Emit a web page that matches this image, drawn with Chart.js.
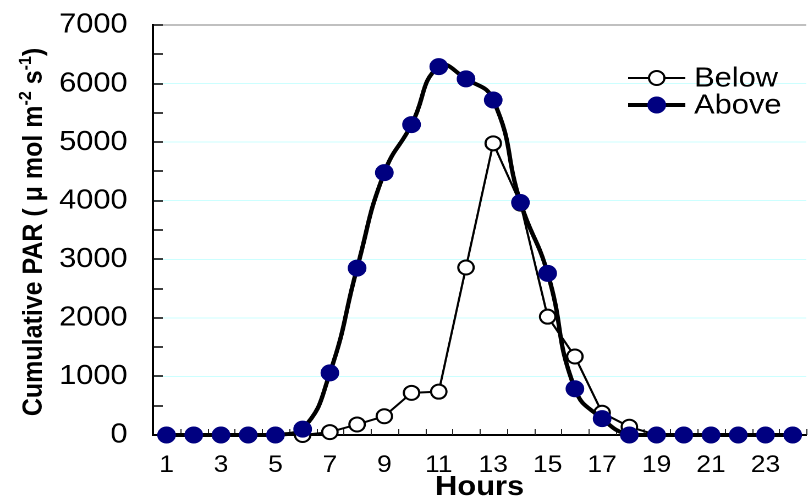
<!DOCTYPE html>
<html lang="en">
<head>
<meta charset="UTF-8">
<title>Cumulative PAR</title>
<script src="https://cdn.jsdelivr.net/npm/chart.js"></script>
<style>
  html, body { margin: 0; padding: 0; background: #fff; overflow: hidden; width: 809px; height: 500px; }
  /* the original figure is drawn a little wider than tall, stretch the whole chart */
  .wrap { width: 742px; height: 500px; transform: scaleX(1.1); transform-origin: 0 0; }
</style>
</head>
<body>
<div class="wrap"><canvas id="parChart" width="742" height="500"></canvas></div>
<script>
// data
const hours = [1, 2, 3, 4, 5, 6, 7, 8, 9, 10, 11, 12, 13, 14, 15, 16, 17, 18, 19, 20, 21, 22, 23, 24];
const below = [0, 0, 0, 0, 0, 0, 50, 180, 320, 720, 740, 2860, 4980, 3950, 2020, 1340, 380, 140, 0, 0, 0, 0, 0, 0];
const above = [0, 0, 0, 0, 0, 100, 1060, 2850, 4480, 5300, 6290, 6080, 5720, 3970, 2760, 790, 280, 0, 0, 0, 0, 0, 0, 0];
const xTickLabels = [1, 3, 5, 7, 9, 11, 13, 15, 17, 19, 21, 23];
const yMax = 7000, yStep = 1000, yMinorStep = 500;

const FONT = 'Arial, "Liberation Sans", sans-serif';

// tick marks pointing into the plot, like the original
const innerTicks = {
    id: 'innerTicks',
    beforeDatasetsDraw(chart) {
        const { ctx, chartArea, scales: { x, y } } = chart;
        ctx.save();
        ctx.strokeStyle = '#000';
        ctx.lineWidth = 1.5;
        for (let v = 0; v <= yMax; v += yMinorStep) {
            const py = Math.round(y.getPixelForValue(v));
            ctx.beginPath();
            ctx.moveTo(chartArea.left, py);
            ctx.lineTo(chartArea.left + 9, py);
            ctx.stroke();
        }
        ctx.lineWidth = 1;
        ctx.strokeStyle = '#222';
        hours.forEach(h => {
            const px = Math.round(x.getPixelForValue(h + 0.5)) + 0.5;
            ctx.beginPath();
            ctx.moveTo(px, chartArea.bottom);
            ctx.lineTo(px, chartArea.bottom - 6);
            ctx.stroke();
        });
        ctx.restore();
    }
};

// y title with superscripts
const yTitle = {
    id: 'yTitle',
    afterDraw(chart) {
        const { ctx, chartArea } = chart;
        const parts = [
            { t: 'Cumulative PAR ( \u03bc mol m', sup: false },
            { t: '-2', sup: true },
            { t: ' s', sup: false },
            { t: '-1', sup: true },
            { t: ')', sup: false }
        ];
        const big = 'bold 25px ' + FONT, small = 'bold 16px ' + FONT;
        ctx.save();
        let total = 0;
        parts.forEach(p => {
            ctx.font = p.sup ? small : big;
            p.w = ctx.measureText(p.t).width;
            total += p.w;
        });
        ctx.translate(38, (chartArea.top + chartArea.bottom) / 2 + 2);
        ctx.rotate(-Math.PI / 2);
        ctx.fillStyle = '#000';
        ctx.textBaseline = 'alphabetic';
        let cx = -total / 2;
        parts.forEach(p => {
            ctx.font = p.sup ? small : big;
            ctx.fillText(p.t, cx, p.sup ? -10 : 0);
            cx += p.w;
        });
        ctx.restore();
    }
};

// legend: line with marker in the middle
const lineLegend = {
    id: 'lineLegend',
    afterDraw(chart) {
        const { ctx } = chart;
        const x0 = 571, x1 = 623, tx = 631;
        const rows = [78, 105];
        const order = [1, 0]; // Below, Above
        ctx.save();
        order.forEach((idx, r) => {
            const ds = chart.data.datasets[idx];
            const y = rows[r];
            ctx.strokeStyle = ds.borderColor;
            ctx.lineWidth = ds.borderWidth;
            ctx.beginPath();
            ctx.moveTo(x0, y);
            ctx.lineTo(x1, y);
            ctx.stroke();
            ctx.beginPath();
            ctx.arc((x0 + x1) / 2, y, ds.pointRadius, 0, Math.PI * 2);
            ctx.fillStyle = ds.pointBackgroundColor;
            ctx.fill();
            ctx.lineWidth = ds.pointBorderWidth;
            ctx.strokeStyle = ds.pointBorderColor;
            ctx.stroke();
            ctx.fillStyle = '#000';
            ctx.font = '28px ' + FONT;
            ctx.textBaseline = 'middle';
            ctx.fillText(ds.label, tx, y + 1);
        });
        ctx.restore();
    }
};

new Chart(document.getElementById('parChart'), {
    type: 'line',
    data: {
        datasets: [
            {
                label: 'Above',
                data: hours.map((h, i) => ({ x: h, y: above[i] })),
                borderColor: '#000',
                borderWidth: 4,
                tension: 0.5,
                pointRadius: 8,
                pointBackgroundColor: '#000080',
                pointBorderColor: '#000080',
                pointBorderWidth: 1,
                clip: false
            },
            {
                label: 'Below',
                data: hours.map((h, i) => ({ x: h, y: below[i] })),
                borderColor: '#000',
                borderWidth: 2,
                tension: 0,
                pointRadius: 7,
                pointBackgroundColor: '#fff',
                pointBorderColor: '#000',
                pointBorderWidth: 2,
                clip: false
            }
        ]
    },
    options: {
        responsive: false,
        animation: false,
        devicePixelRatio: 2,
        layout: { padding: { top: 25, right: 0, bottom: 0, left: 0 } },
        plugins: { legend: { display: false }, tooltip: { enabled: false } },
        scales: {
            x: {
                type: 'linear',
                min: 0.5,
                max: 24.5,
                afterBuildTicks: s => { s.ticks = xTickLabels.map(v => ({ value: v })); },
                afterFit: s => { s.height = 65; },
                grid: { display: false, drawTicks: false },
                border: { color: '#000', width: 2 },
                ticks: { color: '#000', font: { family: FONT, size: 24 }, padding: 16, maxRotation: 0, autoSkip: false },
                title: { display: true, text: 'Hours', color: '#000', font: { family: FONT, size: 28, weight: 'bold' }, padding: { top: 0, bottom: -4 } }
            },
            y: {
                min: 0,
                max: yMax,
                afterFit: s => { s.width = 139; s.paddingTop = 0; s.paddingBottom = 0; },
                ticks: { stepSize: yStep, color: '#000', font: { family: FONT, size: 28 }, padding: 23, callback: v => String(v) },
                grid: {
                    drawTicks: false,
                    color: c => c.tick.value === yMax ? '#808080' : (c.tick.value === 0 ? 'rgba(0,0,0,0)' : '#ccffff')
                },
                border: { color: '#000', width: 2 }
            }
        }
    },
    plugins: [innerTicks, yTitle, lineLegend]
});
</script>
</body>
</html>
